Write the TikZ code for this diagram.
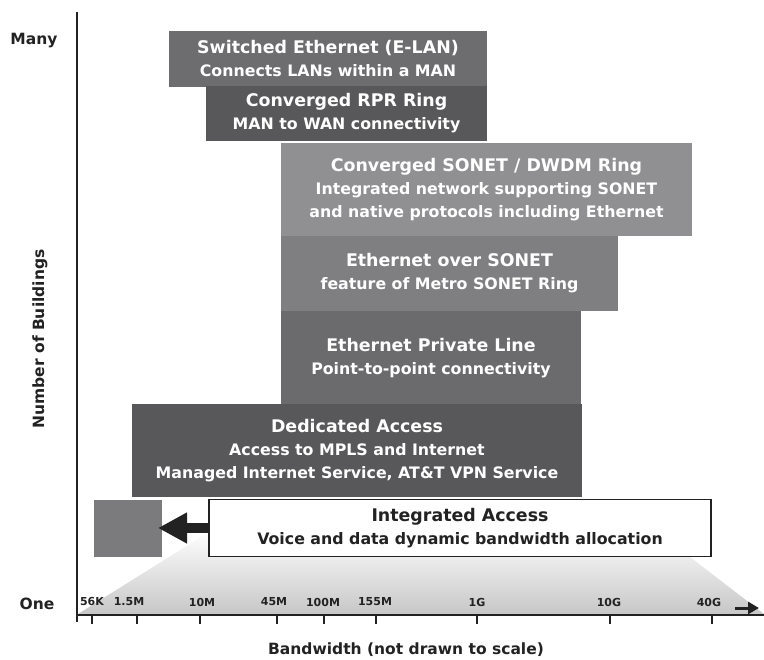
\documentclass[tikz,border=0pt]{standalone}
\usepackage{fontspec}
\setmainfont{DejaVu Sans}
\usetikzlibrary{arrows.meta}
\definecolor{cSE}{HTML}{6D6D70}
\definecolor{cRPR}{HTML}{58585A}
\definecolor{cSD}{HTML}{909093}
\definecolor{cEoS}{HTML}{7F7F82}
\definecolor{cEPL}{HTML}{6B6B6E}
\definecolor{cDA}{HTML}{58585A}
\definecolor{cSQ}{HTML}{7B7B7E}
\definecolor{ink}{HTML}{222222}
\begin{document}
\begin{tikzpicture}[x=1pt,y=-1pt,
  svcbox/.style={draw=none, inner sep=0pt, align=center, text=white,
    font=\bfseries\fontsize{15.8}{23}\selectfont},
  ticklab/.style={font=\bfseries\fontsize{11}{12}\selectfont, text=ink, inner sep=0pt},
  axlab/.style={font=\bfseries\fontsize{15.5}{18}\selectfont, text=ink, inner sep=0pt},
  axisline/.style={draw=ink, line width=2pt},
]
\useasboundingbox (0,0) rectangle (764,660);
\newcommand{\T}[1]{{\fontsize{17.4}{23}\selectfont #1}}

% gradient trapezoid
\shade[top color=white, bottom color=black!22] (78,614) -- (212,530) -- (655,530) -- (764,614) -- cycle;

% service boxes
\node[svcbox, fill=cSE, minimum width=318pt, minimum height=56pt] (se) at (328,59)
  {\T{Switched Ethernet (E-LAN)}\\Connects LANs within a MAN};
\node[svcbox, fill=cRPR, minimum width=281pt, minimum height=55pt] (rpr) at (346.5,113.5)
  {\T{Converged RPR Ring}\\MAN to WAN connectivity};
\node[svcbox, fill=cSD, minimum width=411pt, minimum height=93pt] (sd) at (486.5,189.5)
  {\T{Converged SONET / DWDM Ring}\\Integrated network supporting SONET\\and native protocols including Ethernet};
\node[svcbox, fill=cEoS, minimum width=337pt, minimum height=75pt] (eos) at (449.5,273.5)
  {\T{Ethernet over SONET}\\feature of Metro SONET Ring};
\node[svcbox, fill=cEPL, minimum width=300pt, minimum height=93pt] (epl) at (431,358)
  {\T{Ethernet Private Line}\\Point-to-point connectivity};
\node[svcbox, fill=cDA, minimum width=450pt, minimum height=93pt] (da) at (357,451)
  {\T{Dedicated Access}\\Access to MPLS and Internet\\Managed Internet Service, AT\&T VPN Service};
\node[svcbox, fill=white, draw=ink, line width=1.6pt, text=ink, minimum width=502pt, minimum height=57pt] (ia) at (460,528)
  {\T{Integrated Access}\\Voice and data dynamic bandwidth allocation};
\node[fill=cSQ, inner sep=0pt, minimum width=68pt, minimum height=57pt] (sq) at (128,528.5) {};
\coordinate (tip) at (158,528);
\draw[ink, line width=10pt, -{Triangle[length=29pt,width=29pt]}] (ia.west) -- (tip);

% axes
\coordinate (o) at (77,615);
\coordinate (ytop) at (77,12);
\coordinate (ybot) at (77,622);
\coordinate (xend) at (764,615);
\draw[axisline] (ybot) -- (ytop);
\draw[axisline] (o) -- (xend);
\foreach \x/\lx/\l in {92/92/56K,137/129/1.5M,200/202/10M,277/274/45M,324/323/100M,376/375/155M,477/477/1G,610/609/10G,712/709/40G}{
  \draw[ink, line width=2pt] (\x,615) -- (\x,624);
  \node[ticklab] at (\lx,602) {\l};
}
\coordinate (a1) at (735,608);
\coordinate (a2) at (759,608);
\draw[ink, line width=3pt, -{Triangle[length=11pt,width=12pt]}] (a1) -- (a2);

% axis labels
\node[axlab] (many) at (34,41) {Many};
\node[axlab] (one) at (37,604) {One};
\node[axlab, rotate=90] (nb) at (40,339) {Number of Buildings};
\node[axlab] (bw) at (406,650) {Bandwidth (not drawn to scale)};
\end{tikzpicture}
\end{document}
